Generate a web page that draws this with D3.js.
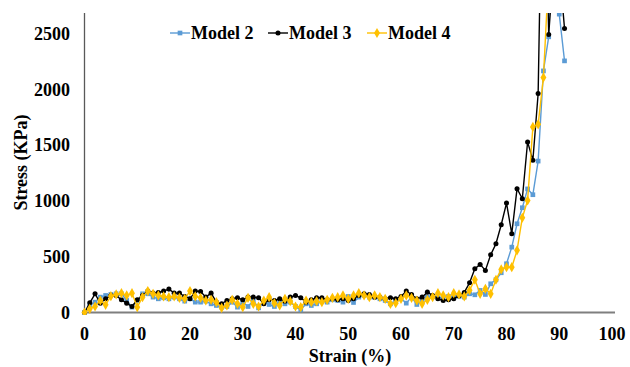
<!DOCTYPE html>
<html>
<head>
<meta charset="utf-8">
<script src="https://cdn.jsdelivr.net/npm/d3@7"></script>
<style>
  body { margin: 0; background: #fff; }
</style>
</head>
<body>
<svg id="chart" width="630" height="367" font-family="'Liberation Serif', 'Times New Roman', Times, 'DejaVu Serif', serif" font-weight="bold"></svg>
<script>
// strain (%) sampled every point of the test
const strain = d3.range(0, 92);

const model2 = [
  0, 63, 93, 138, 153, 162, 168, 168, 108, 48, 108, 168, 168, 138, 123, 132, 123, 138, 123, 102, 123, 93, 93, 102, 78, 63,
  48, 54, 93, 48, 93, 54, 108, 42, 93, 72, 54, 102, 78, 93, 54, 24, 78, 63, 78, 102, 93, 114, 108, 93, 144, 90,
  138, 153, 138, 138, 123, 108, 78, 102, 123, 84, 138, 72, 102, 138, 144, 132, 138, 144, 138, 144,
  138, 168, 159, 198, 162, 258, 294, 357, 438, 587, 797, 941, 1110, 1058, 1360, 2170, 2476, 4100, 2680, 2260
];

const model3 = [
  0, 87, 168, 84, 123, 153, 153, 114, 84, 54, 114, 153, 192, 174, 180, 192, 210, 174, 174, 144, 123, 192, 189, 138, 174, 93,
  78, 108, 123, 132, 114, 138, 138, 132, 78, 114, 108, 123, 102, 138, 153, 132, 93, 114, 132, 132, 114, 123, 114, 123, 108, 123,
  153, 168, 162, 138, 138, 123, 132, 123, 144, 192, 162, 123, 138, 183, 153, 123, 108, 114, 123, 150,
  180, 267, 393, 432, 378, 518, 617, 788, 983, 708, 1112, 1022, 1532, 1367, 1967, 4700, 2497, 3150, 3100, 2551
];

const model4 = [
  0, 33, 54, 108, 69, 147, 162, 174, 153, 174, 48, 138, 192, 168, 153, 144, 138, 144, 132, 123, 192, 144, 132, 108, 114, 93,
  42, 63, 114, 78, 48, 132, 78, 54, 108, 138, 84, 63, 123, 102, 54, 48, 108, 93, 102, 93, 114, 132, 138, 153, 123, 153,
  174, 153, 138, 153, 138, 123, 78, 84, 123, 153, 132, 108, 78, 114, 138, 174, 153, 138, 174, 162, 144,
  200, 294, 168, 213, 168, 294, 387, 407, 407, 558, 851, 1007, 1667, 1690, 2110, 3050
];

const seriesNames = ["Model 2", "Model 3", "Model 4"];
const xTicks = [0, 10, 20, 30, 40, 50, 60, 70, 80, 90, 100];
const yTicks = [0, 500, 1000, 1500, 2000, 2500];

const svg = d3.select("#chart");

//** SCALES *****************************************
const xScale = d3.scaleLinear().domain([0, 100]).range([84.5, 612]);
const yScale = d3.scaleLinear().domain([0, 2690]).range([312.5, 13]);

const colours = ["#5B9BD5", "#000000", "#FFC000"];
const shapes = [d3.symbolSquare, d3.symbolCircle, d3.symbolDiamond];
const shapeSizes = [22, 20, 30];

//** AXES *****************************************
svg.append("defs").append("clipPath").attr("id", "plotClip")
  .append("rect").attr("x", 80).attr("y", 13).attr("width", 545).attr("height", 302);

// y labels (no tick marks, like Excel)
svg.append("g").selectAll("text")
  .data(yTicks).enter()
  .append("text")
  .attr("x", 70)
  .attr("y", d => yScale(d) + 6)
  .attr("text-anchor", "end")
  .attr("font-size", 18)
  .attr("fill", "#000")
  .text(d => d);

// x labels
svg.append("g").selectAll("text")
  .data(xTicks).enter()
  .append("text")
  .attr("x", d => xScale(d))
  .attr("y", 340)
  .attr("text-anchor", "middle")
  .attr("font-size", 18)
  .attr("fill", "#000")
  .text(d => d);

// axis lines
svg.append("line")
  .attr("x1", xScale(0)).attr("x2", xScale(0))
  .attr("y1", 13).attr("y2", yScale(0))
  .attr("stroke", "#595959").attr("stroke-width", 1.3);
svg.append("line")
  .attr("x1", xScale(0)).attr("x2", 615)
  .attr("y1", yScale(0)).attr("y2", yScale(0))
  .attr("stroke", "#7f7f7f").attr("stroke-width", 1.8);

// axis titles
svg.append("text")
  .attr("x", 350).attr("y", 362)
  .attr("text-anchor", "middle")
  .attr("font-size", 18)
  .text("Strain (%)");

svg.append("text")
  .attr("transform", "translate(27,162.5) rotate(-90)")
  .attr("text-anchor", "middle")
  .attr("font-size", 18)
  .text("Stress (KPa)");

//** DATA *****************************************
const allSeries = [model2, model3, model4];
const plot = svg.append("g").attr("clip-path", "url(#plotClip)");

const line = d3.line()
  .x(d => xScale(d.x))
  .y(d => yScale(d.y));

allSeries.forEach((values, i) => {
  const pts = values.map((v, j) => ({ x: strain[j], y: v }));

  plot.append("path")
    .datum(pts)
    .attr("fill", "none")
    .attr("stroke", colours[i])
    .attr("stroke-width", 1.4)
    .attr("d", line);

  plot.append("g").selectAll("path")
    .data(pts).enter()
    .append("path")
    .attr("transform", d => "translate(" + xScale(d.x) + "," + yScale(d.y) + ")")
    .attr("d", d3.symbol().type(shapes[i]).size(shapeSizes[i]))
    .attr("fill", colours[i]);
});

//** LEGEND *****************************************
const legendX = [170, 268, 367];
const legend = svg.append("g");
seriesNames.forEach((name, i) => {
  const g = legend.append("g").attr("transform", "translate(" + legendX[i] + ",33)");
  g.append("line")
    .attr("x1", 0).attr("x2", 20)
    .attr("stroke", colours[i]).attr("stroke-width", 1.4);
  g.append("path")
    .attr("transform", "translate(10,0)")
    .attr("d", d3.symbol().type(shapes[i]).size(shapeSizes[i]))
    .attr("fill", colours[i]);
  g.append("text")
    .attr("x", 21).attr("y", 6)
    .attr("font-size", 18)
    .text(name);
});
</script>
</body>
</html>
